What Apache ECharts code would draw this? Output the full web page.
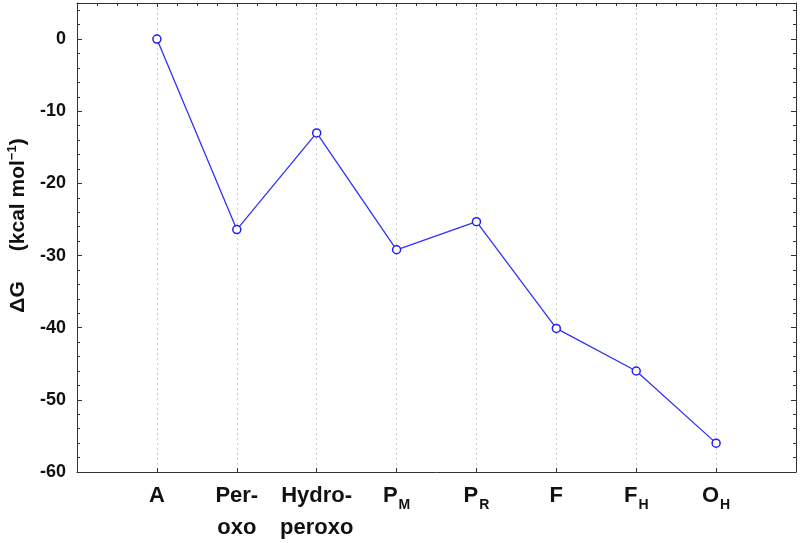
<!DOCTYPE html>
<html>
<head>
<meta charset="utf-8">
<script src="https://cdn.jsdelivr.net/npm/echarts@6/dist/echarts.min.js"></script>
<style>
html,body{margin:0;padding:0;background:#fff;}
#main{width:800px;height:543px;}
</style>
</head>
<body>
<div id="main"></div>
<script>
//图表容器
var chart = echarts.init(document.getElementById('main'));

//横轴类别（首尾空位用于留白）
var categories = ['', 'A', 'Per-\noxo', 'Hydro-\nperoxo', '{m|P}{s|M}', '{m|P}{s|R}', 'F', '{m|F}{s|H}', '{m|O}{s|H}', ''];
//ΔG 数值 (kcal/mol)
var dG = [null, 0, -26.4, -13.0, -29.2, -25.3, -40.1, -46.0, -56.0, null];
//纵轴刻度
var yMin = -60, yMax = 5, yStep = 10;

var font = 'Arial, "Liberation Sans", sans-serif';
var tickStyle = {color: '#333', width: 1};
var lineStyle = {color: '#333', width: 1};

var option = {
    backgroundColor: '#fff',
    animation: false,
    grid: {left: 77, right: 4, top: 3, bottom: 71, containLabel: false, outerBoundsMode: 'none'},
    xAxis: [{
        type: 'category',
        data: categories,
        boundaryGap: false,
        axisLine: {show: true, onZero: false, lineStyle: lineStyle},
        axisTick: {show: true, inside: true, length: 4, lineStyle: tickStyle},
        axisLabel: {
            interval: 0,
            margin: 8,
            color: '#111',
            fontSize: 22,
            fontWeight: 'bold',
            fontFamily: font,
            lineHeight: 32,
            verticalAlign: 'top',
            rich: {
                m: {fontSize: 22, fontWeight: 'bold', fontFamily: font, color: '#111'},
                s: {fontSize: 14, fontWeight: 'bold', fontFamily: font, color: '#111', verticalAlign: 'bottom', padding: [10, 0, 0, 1]}
            }
        },
        splitLine: {show: true, lineStyle: {color: '#ccc', type: [2, 3], width: 1}}
    }, {
        //顶部刻度
        type: 'value',
        position: 'top',
        min: 0, max: 9, interval: 1,
        axisLine: {show: true, onZero: false, lineStyle: lineStyle},
        axisTick: {show: true, inside: true, length: 4, lineStyle: tickStyle},
        minorTick: {show: true, splitNumber: 4, length: 3, lineStyle: tickStyle},
        axisLabel: {show: false},
        splitLine: {show: false}
    }],
    yAxis: [{
        type: 'value',
        min: yMin, max: yMax, interval: yStep,
        name: '{g|ΔG}{sp|}{g|(kcal mol}{sup|−1}{g|)}',
        nameLocation: 'middle',
        nameGap: 45,
        nameRotate: 90,
        nameTextStyle: {
            padding: [0, 0, 0, 24],
            rich: {
                g: {fontSize: 21, fontWeight: 'bold', fontFamily: font, color: '#111'},
                sp: {width: 30},
                sup: {fontSize: 13, fontWeight: 'bold', fontFamily: font, color: '#111', verticalAlign: 'top', padding: [0, 0, 12, 0]}
            }
        },
        axisLine: {show: true, onZero: false, lineStyle: lineStyle},
        axisTick: {show: true, inside: true, length: 5, lineStyle: tickStyle},
        minorTick: {show: true, splitNumber: 5, length: 3, lineStyle: tickStyle},
        axisLabel: {
            margin: 11,
            color: '#111',
            fontSize: 18,
            fontWeight: 'bold',
            fontFamily: font,
            formatter: function (v) { return v % yStep === 0 ? v : ''; }
        },
        splitLine: {show: false}
    }, {
        //右侧刻度
        type: 'value',
        position: 'right',
        min: yMin, max: yMax, interval: yStep,
        axisLine: {show: true, onZero: false, lineStyle: lineStyle},
        axisTick: {show: true, inside: true, length: 5, lineStyle: tickStyle},
        minorTick: {show: true, splitNumber: 5, length: 3, lineStyle: tickStyle},
        axisLabel: {show: false},
        splitLine: {show: false}
    }],
    series: [{
        name: 'ΔG',
        type: 'line',
        xAxisIndex: 0,
        yAxisIndex: 0,
        data: dG,
        connectNulls: false,
        symbol: 'circle',
        symbolSize: 8,
        lineStyle: {color: '#3030ff', width: 1.3},
        itemStyle: {color: '#fff', borderColor: '#2020ff', borderWidth: 1.5}
    }]
};
chart.setOption(option);
</script>
</body>
</html>
